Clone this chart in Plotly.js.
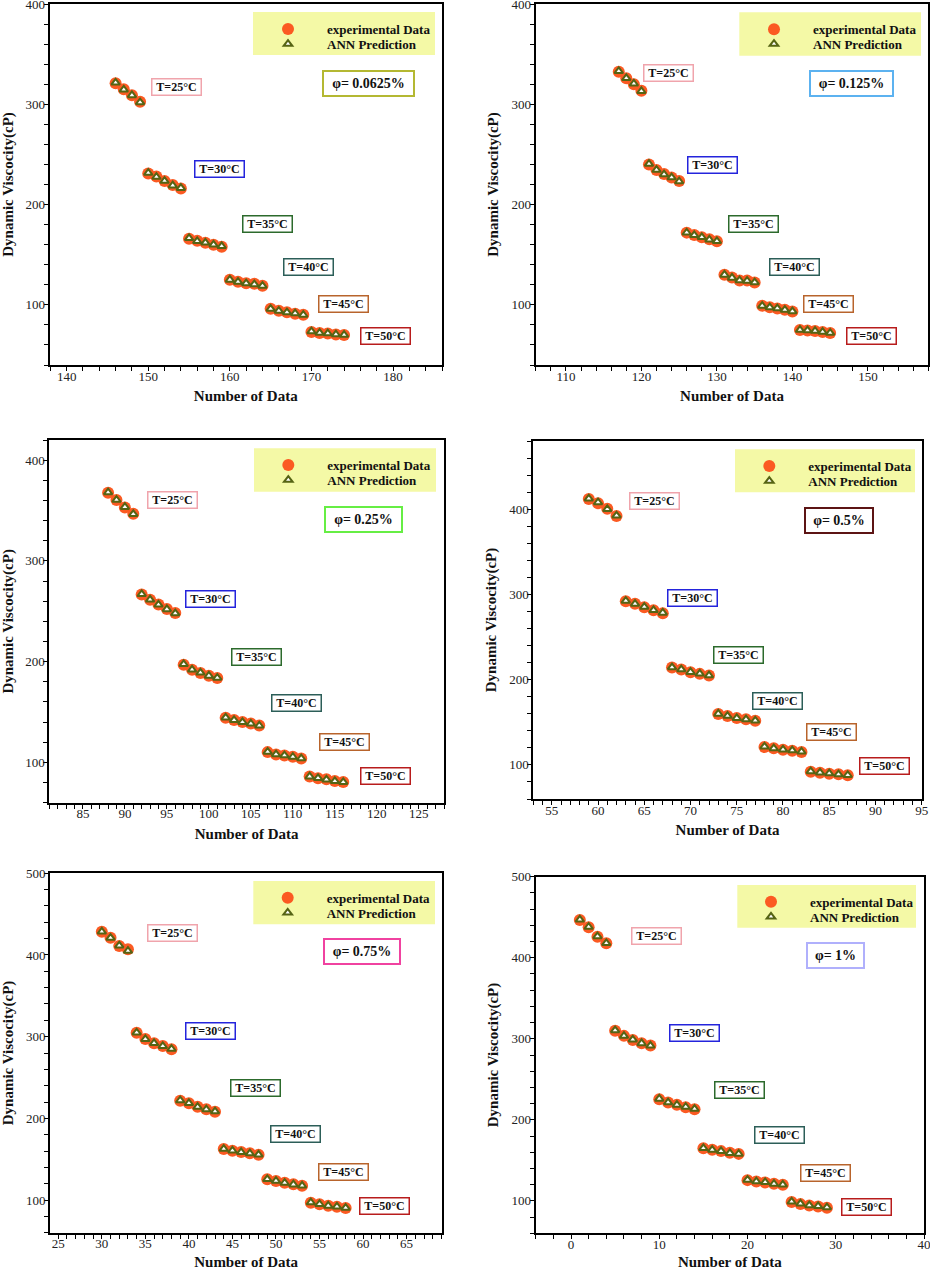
<!DOCTYPE html>
<html>
<head>
<meta charset="utf-8">
<script src="https://cdn.plot.ly/plotly-3.0.1.min.js"></script>
<style>html,body{margin:0;padding:0;background:#fff;}#chart{width:930px;height:1270px;}</style>
</head>
<body>
<div id="chart"></div>
<script>
// ---------------- DATA ----------------
const seriesNames = ['experimental Data', 'ANN Prediction'];
const tempLabels = ['T=25°C', 'T=30°C', 'T=35°C', 'T=40°C', 'T=45°C', 'T=50°C'];
const phiLabels = ['φ= 0.0625%', 'φ= 0.125%', 'φ= 0.25%', 'φ= 0.5%', 'φ= 0.75%', 'φ= 1%'];

const x1 = [146,147,148,149,150,151,152,153,154,155,156,157,158,159,160,161,162,163,164,165,166,167,168,169,170,171,172,173,174];
const exp1 = [321,315,309,302.6,231,228,223.5,219.5,216,166,164,162,160,158,125,123,121.5,121,119,96,94,92.5,91,90,73,72,71.5,70.5,70];
const ann1 = [321.5,314.5,309,302,231.5,227.5,223.5,219,216.5,166.5,163.5,162,160,158.5,125,123,121.5,120.5,119,96,94,92.5,91.5,90,73.5,72,71.5,70.5,70];

const x2 = [117,118,119,120,121,122,123,124,125,126,127,128,129,130,131,132,133,134,135,136,137,138,139,140,141,142,143,144,145];
const exp2 = [332.5,326,320,313.5,240,234.5,230.5,227,223.5,172,169.7,167.4,165.4,163.4,130,127.3,124.3,124.3,122.3,99,97.6,96.3,95,93.3,75,74.5,74,73,72];
const ann2 = [333,326,320.5,313,240.5,234.5,230,227,223,172,169.5,167.5,165,163.5,130,127,124.5,124,122.5,99,97.5,96.5,95,93.5,75,74.5,74,73,72];

const x3 = [88,89,90,91,92,93,94,95,96,97,98,99,100,101,102,103,104,105,106,107,108,109,110,111,112,113,114,115,116];
const exp3 = [367.6,360.4,353,346.8,266.7,261.4,256.8,252.2,248.2,197,192,188.8,186,183.8,144.3,142,140,138.6,136.6,110.2,107.9,106.9,105.6,103.9,85.9,84.2,83.2,81.5,80.5];
const ann3 = [368,360.5,353.5,346.5,267,261.5,256.5,252,248,197.5,192,189,186,184,144.5,142,140,138.5,136.5,110.5,108,107,105.5,104,86,84.5,83,81.5,80.5];

const x4 = [59,60,61,62,63,64,65,66,67,68,69,70,71,72,73,74,75,76,77,78,79,80,81,82,83,84,85,86,87];
const exp4 = [412,407,400.4,392,292,289,285,281.5,278,214.2,211.9,208.8,206.8,204.9,159.7,157.4,155,153.5,151.9,121,119.5,117.9,116.7,115.2,92,90.9,89.7,89,87.8];
const ann4 = [412.5,408,400,392.5,292.5,289,285.5,281.5,278.5,214.5,212,209,207,205,160,157.5,155,153.5,152,121.5,119.5,118,117,115.5,92.5,91,90,89,88];

const x5 = [30,31,32,33,34,35,36,37,38,39,40,41,42,43,44,45,46,47,48,49,50,51,52,53,54,55,56,57,58];
const exp5 = [428.5,421,411,407,304.8,297,291.8,288.5,284.5,221.6,218.4,214.3,211,208,162.4,160.4,158.8,157.2,155.5,125.3,123.2,121.2,119.2,117.5,96.7,94.7,93.1,91.8,90.2];
const ann5 = [428.5,421,411.5,405,305,297,292,288.5,285,222,218.5,214,211,208.5,162.5,160.5,158.5,157,155.5,125.5,123.5,121,119,117.5,97,95,93,92,90.5];

const x6 = [1,2,3,4,5,6,7,8,9,10,11,12,13,14,15,16,17,18,19,20,21,22,23,24,25,26,27,28,29];
const exp6 = [446.5,437.6,426,417.8,310,303.6,298.6,294.6,291.6,225.5,221.3,218.5,215.6,213.2,165,163,161.4,159.3,158,125.6,124,122.7,121.1,119.9,98.5,96,94.3,93.1,91.5];
const ann6 = [447,438,426.5,418,310.5,303.5,299,294.5,291.5,226,221.5,218.5,216,213.5,165,163,161.5,159,158,126,124,123,121,120,99,96.5,94.5,93.5,92];

const xData = [x1, x2, x3, x4, x5, x6];
const expData = [exp1, exp2, exp3, exp4, exp5, exp6];
const annData = [ann1, ann2, ann3, ann4, ann5, ann6];

// ---------------- LAYOUT / STYLE ----------------
const W = 930, H = 1270;
const FONT = 'Liberation Serif, "Times New Roman", serif';
const fx = p => p / W;
const fy = p => 1 - p / H;

const panels = [
  {xr:[137.9,186], yr:[40,400], xdt:10, xmin:2, px:[49.5,442], py:[4,365]},
  {xr:[106,158], yr:[40,400], xdt:10, xmin:2, px:[535.7,928.3], py:[4,365]},
  {xr:[81,128], yr:[60,420], xdt:5, xmin:1, px:[49.3,444], py:[440,802.7]},
  {xr:[53,95], yr:[60,480], xdt:5, xmin:1, px:[533.3,921.7], py:[441,799]},
  {xr:[24.05,69.1], yr:[60,500], xdt:5, xmin:1, px:[50,442.3], py:[873.3,1232.7]},
  {xr:[-4,40], yr:[60,500], xdt:10, xmin:2, px:[535.7,924], py:[876.7,1233.3]}
];
// label positions as fractions of each plot area
const tempPos = [
  [[0.324,0.769],[0.434,0.543],[0.555,0.390],[0.659,0.272],[0.749,0.169],[0.857,0.081]],
  [[0.338,0.808],[0.450,0.554],[0.554,0.390],[0.659,0.272],[0.747,0.169],[0.856,0.081]],
  [[0.312,0.835],[0.409,0.561],[0.525,0.402],[0.627,0.274],[0.747,0.168],[0.852,0.074]],
  [[0.313,0.832],[0.410,0.561],[0.528,0.401],[0.629,0.275],[0.768,0.186],[0.903,0.093]],
  [[0.312,0.835],[0.410,0.562],[0.525,0.402],[0.627,0.275],[0.748,0.169],[0.852,0.074]],
  [[0.312,0.834],[0.408,0.563],[0.526,0.402],[0.627,0.276],[0.747,0.170],[0.852,0.075]]
];
const tempColors = ['#f0a4ac','#2424dc','#2c6a2c','#2c5e58','#b8642c','#b81c1c'];
const phiPos = [[0.813,0.780],[0.804,0.780],[0.795,0.781],[0.788,0.778],[0.795,0.782],[0.771,0.780]];
const phiWidth = [83,75,69,60,68,49];
const phiColors = ['#b4b832','#5cb2f0','#66ee44','#5c1414','#f042a0','#b0b0fc'];
// legend geometry (pixels): box [x0,x1,y0,y1], symbol x, circle y, triangle y
const legendGeo = [
  {box:[253,435,12,55], sx:288, cy:29, ty:44},
  {box:[739.3,921,12.3,55.7], sx:774, cy:29.3, ty:44},
  {box:[254,436,448.3,491.7], sx:288.3, cy:465, ty:480},
  {box:[735,915,449.3,492.3], sx:769.3, cy:466, ty:481},
  {box:[253.3,435,881,924.3], sx:287.7, cy:897.7, ty:912.7},
  {box:[737.3,916,885,927.7], sx:771, cy:901.7, ty:916.7}
];

const traces = [];
const layout = {
  width: W, height: H,
  margin: {l:0, r:0, t:0, b:0},
  paper_bgcolor: '#ffffff', plot_bgcolor: '#ffffff',
  font: {family: FONT, color: '#111'},
  showlegend: true,
  shapes: [], annotations: []
};

const ITEMW = 68;
panels.forEach((p, i) => {
  const s = i === 0 ? '' : String(i + 1);
  const xa = 'xaxis' + s, ya = 'yaxis' + s;
  layout[xa] = {
    domain: [fx(p.px[0]), fx(p.px[1])], range: p.xr, anchor: 'y' + s,
    dtick: p.xdt, tick0: 0, ticks: 'outside', ticklen: 4, tickwidth: 1.2, tickcolor: '#000',
    showline: true, linewidth: 2, linecolor: '#000', mirror: true,
    showgrid: false, zeroline: false, ticklabeloverflow: 'allow', ticklabelstandoff: -6,
    tickfont: {family: FONT, size: 13, color: '#222'},
    minor: {dtick: p.xmin, tick0: 0, ticks: 'outside', ticklen: 4, tickwidth: 1.2, tickcolor: '#000', showgrid: false},
    title: {text: '<b>Number of Data</b>', font: {family: FONT, size: 15, color: '#111'}, standoff: 8}
  };
  layout[ya] = {
    domain: [fy(p.py[1]), fy(p.py[0])], range: p.yr, anchor: 'x' + s,
    dtick: 100, tick0: 0, ticks: 'outside', ticklen: 4, tickwidth: 1.2, tickcolor: '#000',
    showline: true, linewidth: 2, linecolor: '#000', mirror: true,
    showgrid: false, zeroline: false, ticklabeloverflow: 'allow', ticklabelstandoff: -4,
    tickfont: {family: FONT, size: 13, color: '#222'},
    minor: {dtick: 20, tick0: 0, ticks: 'outside', ticklen: 4, tickwidth: 1.2, tickcolor: '#000', showgrid: false},
    title: {text: '<b>Dynamic Viscocity(cP)</b>', font: {family: FONT, size: 15, color: '#111'}, standoff: 9}
  };
  const lgA = 'legend' + (2 * i + 1 === 1 ? '' : String(2 * i + 1));
  const lgB = 'legend' + String(2 * i + 2);
  traces.push({
    type: 'scatter', mode: 'markers', x: xData[i], y: expData[i],
    xaxis: 'x' + s, yaxis: 'y' + s, name: '<b>' + seriesNames[0] + '</b>', legend: lgA,
    marker: {symbol: 'circle', size: 12, color: '#fb5a22', line: {width: 0}},
    hoverinfo: 'x+y'
  });
  traces.push({
    type: 'scatter', mode: 'markers', x: xData[i], y: annData[i],
    xaxis: 'x' + s, yaxis: 'y' + s, name: '<b>' + seriesNames[1] + '</b>', legend: lgB,
    marker: {symbol: 'triangle-up', size: 7.5, color: '#ffffff', line: {width: 2, color: '#566414'}},
    hoverinfo: 'x+y'
  });
  const g = legendGeo[i];
  layout.shapes.push({type: 'rect', xref: 'paper', yref: 'paper',
    x0: fx(g.box[0]), x1: fx(g.box[1]), y0: fy(g.box[3]), y1: fy(g.box[2]),
    fillcolor: '#f4f9a6', line: {width: 0}, layer: 'above'});
  const legBase = {xanchor: 'left', yanchor: 'middle', bgcolor: 'rgba(0,0,0,0)', borderwidth: 0,
    font: {family: FONT, size: 13, color: '#111'}, itemwidth: ITEMW, itemclick: false, itemdoubleclick: false};
  layout[lgA] = Object.assign({}, legBase, {x: fx(g.sx - (5 + ITEMW / 2)), y: fy(g.cy)});
  layout[lgB] = Object.assign({}, legBase, {x: fx(g.sx - (5 + ITEMW / 2)), y: fy(g.ty)});

  tempLabels.forEach((t, k) => {
    layout.annotations.push({
      text: '<b>' + t + '</b>', xref: 'x' + s + ' domain', yref: 'y' + s + ' domain',
      x: tempPos[i][k][0], y: tempPos[i][k][1], xanchor: 'center', yanchor: 'middle', showarrow: false,
      font: {family: FONT, size: 12, color: '#111'}, bgcolor: '#ffffff',
      bordercolor: tempColors[k], borderwidth: 1.5, borderpad: 1.5, width: 45, height: 12
    });
  });
  layout.annotations.push({
    text: '<b>' + phiLabels[i] + '</b>', xref: 'x' + s + ' domain', yref: 'y' + s + ' domain',
    x: phiPos[i][0], y: phiPos[i][1], xanchor: 'center', yanchor: 'middle', showarrow: false,
    font: {family: FONT, size: 14, color: '#111'}, bgcolor: '#ffffff',
    bordercolor: phiColors[i], borderwidth: 2, borderpad: 3, width: phiWidth[i], height: 17
  });
});

Plotly.newPlot('chart', traces, layout, {displayModeBar: false, staticPlot: false});
</script>
</body>
</html>
